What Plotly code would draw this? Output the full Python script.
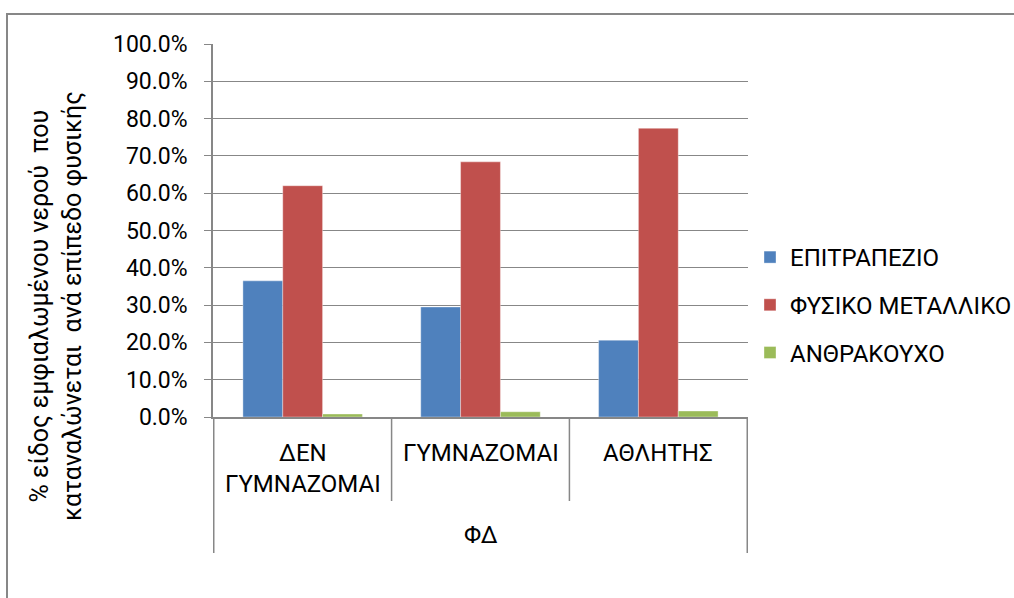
import plotly.graph_objects as go

# ---- data ----
categories = ["ΔΕΝ ΓΥΜΝΑΖΟΜΑΙ", "ΓΥΜΝΑΖΟΜΑΙ", "ΑΘΛΗΤΗΣ"]
category_labels = ["ΔΕΝ<br>ΓΥΜΝΑΖΟΜΑΙ", "ΓΥΜΝΑΖΟΜΑΙ", "ΑΘΛΗΤΗΣ"]
group_label = "ΦΔ"
series_names = ["ΕΠΙΤΡΑΠΕΖΙΟ", "ΦΥΣΙΚΟ ΜΕΤΑΛΛΙΚΟ", "ΑΝΘΡΑΚΟΥΧΟ"]
epitrapezio = [0.365, 0.295, 0.206]
fysiko_metalliko = [0.620, 0.684, 0.774]
anthrakouxo = [0.008, 0.014, 0.016]
y_tick_values = [0.0, 0.1, 0.2, 0.3, 0.4, 0.5, 0.6, 0.7, 0.8, 0.9, 1.0]
y_title = "% είδος εμφιαλωμένου νερού\u00a0 που<br>καταναλώνεται\u00a0 ανά επίπεδο φυσικής"

colors = ["#4F81BD", "#C0504D", "#9BBB59"]
FONT = "Roboto, 'Noto Sans', sans-serif"
GRAY = "#878787"

W, H = 1014, 598
L, R, T, B = 213, 748, 44, 417  # plot area in pixels


def px(xp):
    return (xp - L) / (R - L)


def py(yp):
    return (B - yp) / (B - T)


fig = go.Figure()
for i, (name, vals) in enumerate(zip(series_names, [epitrapezio, fysiko_metalliko, anthrakouxo])):
    fig.add_trace(go.Bar(
        x=categories, y=vals, name=name,
        marker=dict(color=colors[i], line=dict(color="rgba(255,255,255,0.6)", width=0.6)),
        legendgroup=f"g{i}",
    ))

shapes = []
# chart border (left/top visible)
shapes.append(dict(type="rect", xref="paper", yref="paper",
                   x0=px(7), x1=px(1030), y0=py(620), y1=py(14),
                   line=dict(color=GRAY, width=2), layer="below"))
# category dividers
n = len(categories)
for k in range(n + 1):
    outer = k == 0 or k == n
    shapes.append(dict(type="line", xref="x", yref="paper",
                       x0=k - 0.5, x1=k - 0.5, y0=0, y1=py(553 if outer else 501),
                       line=dict(color=GRAY, width=1.5)))

annotations = []
for c, lab in zip(categories, category_labels):
    annotations.append(dict(x=c, xref="x", y=py(437), yref="paper", text=lab,
                            showarrow=False, xanchor="center", yanchor="top",
                            font=dict(size=24, color="black", family=FONT)))
annotations.append(dict(x=0.5, xref="paper", y=py(535), yref="paper", text=group_label,
                        showarrow=False, xanchor="center", yanchor="middle",
                        font=dict(size=24, color="black", family=FONT)))
annotations.append(dict(x=px(56), xref="paper", y=py(306), yref="paper", text=y_title,
                        showarrow=False, xanchor="center", yanchor="middle", textangle=-90,
                        font=dict(size=25, color="black", family=FONT)))

fig.update_layout(
    width=W, height=H,
    margin=dict(l=L, r=W - R, t=T, b=H - B, pad=0, autoexpand=False),
    paper_bgcolor="white", plot_bgcolor="white",
    barmode="group", bargap=0.328, bargroupgap=0,
    font=dict(family=FONT, color="black"),
    showlegend=True,
    legend=dict(x=px(750), xanchor="left", y=py(235), yanchor="top",
                font=dict(size=24, color="black", family=FONT),
                tracegroupgap=13.5, itemwidth=30, bgcolor="rgba(0,0,0,0)"),
    shapes=shapes, annotations=annotations,
)
fig.update_xaxes(type="category", showticklabels=False, showline=True, linecolor=GRAY,
                 linewidth=1.5, ticks="", showgrid=False, zeroline=False)
fig.update_yaxes(range=[0, 1], tickvals=y_tick_values, tickformat=".1%",
                 showgrid=True, gridcolor=GRAY, gridwidth=1,
                 showline=True, linecolor=GRAY, linewidth=1.5,
                 ticks="outside", ticklen=7, tickcolor=GRAY, tickwidth=1,
                 ticklabelstandoff=12,
                 tickfont=dict(size=23, color="black", family=FONT),
                 zeroline=False)

fig.write_html("out.html", post_script="document.body.style.margin='0';",
               config={"displayModeBar": False})
